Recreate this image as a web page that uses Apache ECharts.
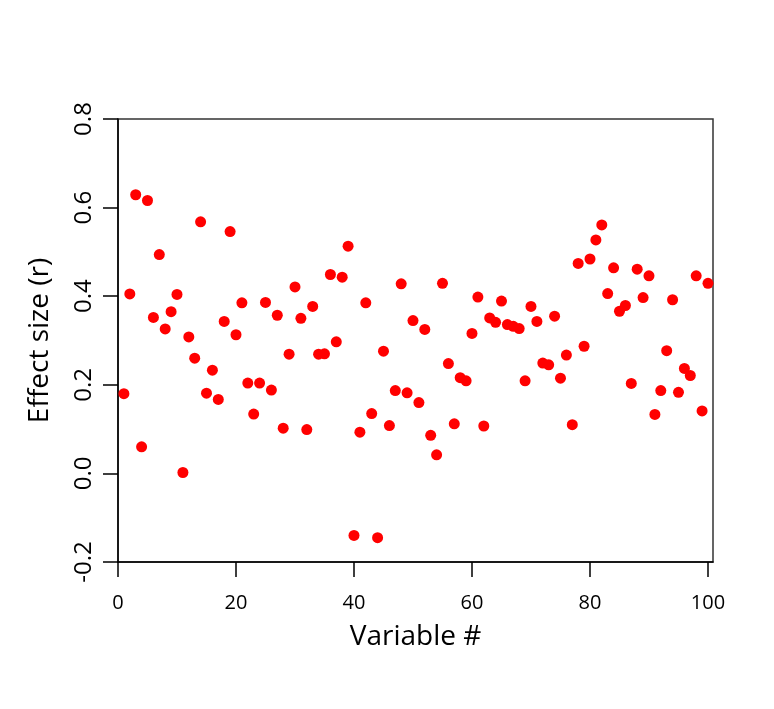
<!DOCTYPE html>
<html>

	<head>
		<meta charset="utf-8" />
		<title>Effect size by variable</title>
		<script src="https://cdn.jsdelivr.net/npm/echarts@6/dist/echarts.min.js"></script>
		<style type="text/css">
			html,body{
				margin: 0;
				width: 100%;
				height: 100%;
				background: #fff;
			}
		</style>
	</head>

	<body>
		<div id="chart" style="width:774px;height:709px;"></div>
		<script>
			// values
			var varIndex = [1, 2, 3, 4, 5, 6, 7, 8, 9, 10,
				11, 12, 13, 14, 15, 16, 17, 18, 19, 20,
				21, 22, 23, 24, 25, 26, 27, 28, 29, 30,
				31, 32, 33, 34, 35, 36, 37, 38, 39, 40,
				41, 42, 43, 44, 45, 46, 47, 48, 49, 50,
				51, 52, 53, 54, 55, 56, 57, 58, 59, 60,
				61, 62, 63, 64, 65, 66, 67, 68, 69, 70,
				71, 72, 73, 74, 75, 76, 77, 78, 79, 80,
				81, 82, 83, 84, 85, 86, 87, 88, 89, 90,
				91, 92, 93, 94, 95, 96, 97, 98, 99, 100];
			var effectSize = [0.180, 0.405, 0.629, 0.060, 0.616, 0.352, 0.494, 0.326, 0.365, 0.404,
				0.002, 0.308, 0.260, 0.568, 0.181, 0.233, 0.167, 0.343, 0.546, 0.313,
				0.385, 0.204, 0.134, 0.204, 0.386, 0.188, 0.357, 0.102, 0.269, 0.421,
				0.350, 0.099, 0.377, 0.269, 0.270, 0.449, 0.297, 0.443, 0.513, -0.140,
				0.093, 0.385, 0.135, -0.145, 0.276, 0.108, 0.187, 0.428, 0.182, 0.345,
				0.160, 0.325, 0.086, 0.042, 0.429, 0.248, 0.112, 0.216, 0.209, 0.316,
				0.398, 0.107, 0.351, 0.341, 0.389, 0.336, 0.332, 0.327, 0.209, 0.377,
				0.343, 0.249, 0.245, 0.355, 0.215, 0.267, 0.110, 0.474, 0.287, 0.484,
				0.527, 0.561, 0.406, 0.464, 0.366, 0.379, 0.203, 0.461, 0.397, 0.446,
				0.133, 0.187, 0.277, 0.392, 0.183, 0.237, 0.221, 0.446, 0.141, 0.429];
			var xTicks = [0, 20, 40, 60, 80, 100];
			var yTicks = [-0.2, 0, 0.2, 0.4, 0.6, 0.8];

			var points = [];
			for(var i = 0; i < varIndex.length; i++) {
				points.push([varIndex[i], effectSize[i]]);
			}

			var font = 'Open Sans';
			var myChart = echarts.init(document.getElementById('chart'));
			var option = {
				animation: false,
				backgroundColor: '#fff',
				grid: {
					left: 118,
					right: 61,
					top: 119,
					bottom: 147,
					show: true,
					borderColor: '#333',
					borderWidth: 1.5
				},
				xAxis: {
					type: 'value',
					min: 0,
					max: 100.85,
					interval: 20,
					name: 'Variable #',
					nameLocation: 'middle',
					nameGap: 61,
					nameTextStyle: {
						fontFamily: font,
						fontSize: 28,
						color: '#000'
					},
					axisLine: {
						onZero: false,
						lineStyle: { color: '#000', width: 1.5 }
					},
					axisTick: {
						length: 15,
						customValues: xTicks,
						lineStyle: { color: '#000', width: 1.5 }
					},
					axisLabel: {
						margin: 31,
						customValues: xTicks,
						fontFamily: font,
						fontSize: 20,
						color: '#000'
					},
					splitLine: { show: false }
				},
				yAxis: {
					type: 'value',
					min: -0.2,
					max: 0.8,
					interval: 0.2,
					name: 'Effect size (r)',
					nameLocation: 'middle',
					nameGap: 64,
					nameTextStyle: {
						fontFamily: font,
						fontSize: 28,
						color: '#000'
					},
					axisLine: {
						onZero: false,
						lineStyle: { color: '#000', width: 1.5 }
					},
					axisTick: {
						length: 15,
						customValues: yTicks,
						lineStyle: { color: '#000', width: 1.5 }
					},
					axisLabel: {
						rotate: 90,
						margin: 22,
						customValues: yTicks,
						fontFamily: font,
						fontSize: 24,
						color: '#000',
						formatter: function(v) {
							return v.toFixed(1);
						}
					},
					splitLine: { show: false }
				},
				series: [{
					type: 'scatter',
					data: points,
					symbol: 'circle',
					symbolSize: 11,
					itemStyle: {
						color: '#ff0000',
						opacity: 1
					}
				}]
			};
			myChart.setOption(option);
		</script>
	</body>

</html>
